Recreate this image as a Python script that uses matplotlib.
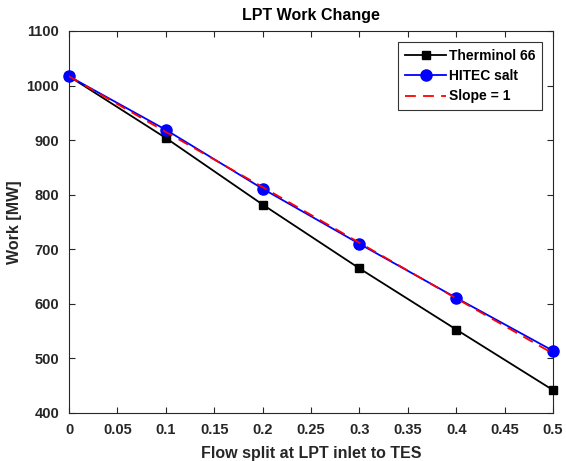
import matplotlib
matplotlib.use("Agg")
import matplotlib.pyplot as plt

plt.rcParams['font.family'] = ['Liberation Sans', 'DejaVu Sans']
plt.rcParams['font.weight'] = 'bold'

flow_split = [0, 0.1, 0.2, 0.3, 0.4, 0.5]
therminol = [1017, 904, 782, 665, 553, 442]
hitec = [1017, 919, 811, 710, 611, 514]
slope1 = [1017, 915, 814, 712, 610, 509]

xticks = [0, 0.05, 0.1, 0.15, 0.2, 0.25, 0.3, 0.35, 0.4, 0.45, 0.5]
xticklabels = ['0', '0.05', '0.1', '0.15', '0.2', '0.25', '0.3', '0.35', '0.4', '0.45', '0.5']
yticks = [400, 500, 600, 700, 800, 900, 1000, 1100]

axc = '#262626'
fig = plt.figure(figsize=(5.66, 4.61), dpi=100)
ax = fig.add_axes([69/566, 1-413/461, (553-69)/566, (413-31)/461])

ax.plot(flow_split, therminol, color='black', lw=1.3, marker='s', ms=6, label='Therminol 66', clip_on=False, zorder=3)
ax.plot(flow_split, hitec, color='blue', lw=1.3, marker='o', ms=8, label='HITEC salt', clip_on=False, zorder=4)
ax.plot(flow_split, slope1, color='red', lw=1.3, ls=(0, (6, 4)), label='Slope = 1', zorder=5)

ax.set_xlim(0, 0.5)
ax.set_ylim(400, 1100)
ax.set_xticks(xticks)
ax.set_xticklabels(xticklabels)
ax.set_yticks(yticks)
ax.tick_params(direction='in', length=4, width=0.8, colors=axc, labelsize=10.5, top=True, right=True, pad=7)
for lab in ax.get_xticklabels() + ax.get_yticklabels():
    lab.set_fontweight('bold')
for s in ax.spines.values():
    s.set_color(axc)
    s.set_linewidth(0.8)

ax.set_title('LPT Work Change', fontsize=11.5, fontweight='bold', color='black', pad=8)
ax.set_xlabel('Flow split at LPT inlet to TES', fontsize=11.5, fontweight='bold', color=axc, labelpad=7)
ax.set_ylabel('Work [MW]', fontsize=11.5, fontweight='bold', color=axc, labelpad=3)

leg = ax.legend(loc='upper right', fontsize=10, frameon=True, fancybox=False,
                edgecolor='black', handlelength=3.0, borderaxespad=0, borderpad=0.5,
                labelspacing=0.45, handletextpad=0.15, bbox_to_anchor=(542/566, 1-42/461),
                bbox_transform=fig.transFigure)
leg.get_frame().set_linewidth(0.8)
for t in leg.get_texts():
    t.set_fontweight('bold')

fig.savefig('out.png', dpi=100)
